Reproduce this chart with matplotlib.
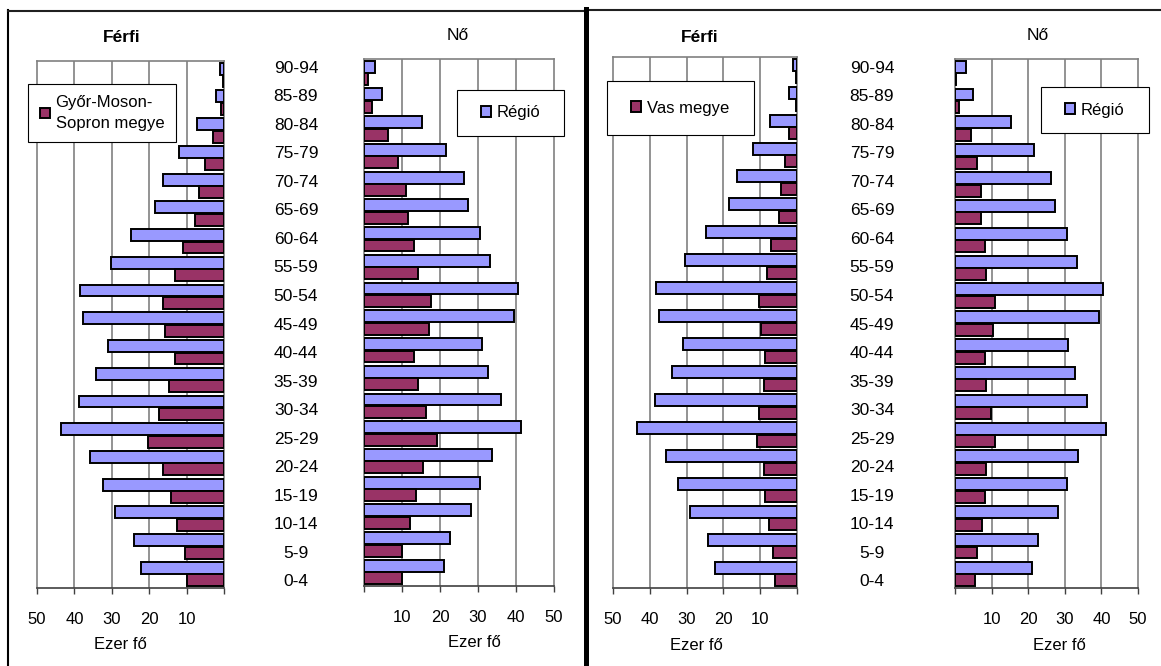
import matplotlib
matplotlib.use('Agg')
import matplotlib.pyplot as plt
import numpy as np
from matplotlib.lines import Line2D
from matplotlib.patches import Rectangle

plt.rcParams['font.family'] = ['Liberation Sans', 'DejaVu Sans']

# age groups, youngest first
ages = ['0-4', '5-9', '10-14', '15-19', '20-24', '25-29', '30-34', '35-39',
        '40-44', '45-49', '50-54', '55-59', '60-64', '65-69', '70-74',
        '75-79', '80-84', '85-89', '90-94']

# thousand persons
region_male = [22.2, 24.1, 29.2, 32.4, 35.7, 43.6, 38.7, 34.1, 31.1, 37.6,
               38.4, 30.3, 24.8, 18.4, 16.2, 12.0, 7.3, 2.1, 1.0]
region_female = [21.1, 22.7, 28.1, 30.5, 33.7, 41.2, 36.1, 32.7, 31.0, 39.4,
                 40.5, 33.2, 30.5, 27.4, 26.3, 21.7, 15.2, 4.8, 3.0]
gyor_male = [9.9, 10.4, 12.7, 14.3, 16.4, 20.2, 17.4, 14.7, 13.1, 15.9,
             16.3, 13.1, 11.0, 7.8, 6.7, 5.1, 2.9, 0.9, 0.4]
gyor_female = [10.1, 10.1, 12.2, 13.8, 15.4, 19.1, 16.4, 14.3, 13.2, 17.0,
               17.5, 14.3, 13.2, 11.7, 11.1, 9.0, 6.4, 2.1, 1.1]
vas_male = [5.9, 6.4, 7.5, 8.6, 9.1, 10.8, 10.2, 9.1, 8.6, 9.7,
            10.2, 8.1, 7.0, 4.8, 4.3, 3.2, 2.1, 0.4, 0.4]
vas_female = [5.4, 5.9, 7.5, 8.1, 8.6, 10.8, 9.7, 8.6, 8.1, 10.3,
              10.8, 8.6, 8.1, 7.0, 7.0, 5.9, 4.3, 1.0, 0.3]

BLUE = '#9999FF'
PURPLE = '#993366'
GRID = '#808080'

W, H = 1161, 666
fig = plt.figure(figsize=(W / 100, H / 100), dpi=100)


def box(x0, y0, x1, y1):
    # pixel box (top-left origin) -> figure fraction rect
    return [x0 / W, 1 - y1 / H, (x1 - x0) / W, (y1 - y0) / H]


def style_axis(ax, male):
    ax.set_ylim(-0.5, len(ages) - 0.5)
    if male:
        ax.set_xlim(50, 0)
        ax.set_xticks([50, 40, 30, 20, 10, 0])
        ax.set_xticklabels(['50', '40', '30', '20', '10', ''])
    else:
        ax.set_xlim(0, 50)
        ax.set_xticks([0, 10, 20, 30, 40, 50])
        ax.set_xticklabels(['', '10', '20', '30', '40', '50'])
    for x in [10, 20, 30, 40]:
        ax.axvline(x, color=GRID, lw=1.2, zorder=0)
    for s in ['top', 'left', 'right']:
        ax.spines[s].set_color(GRID)
        ax.spines[s].set_linewidth(1.2)
    ax.spines['bottom'].set_color('#404040')
    ax.spines['bottom'].set_linewidth(1.2)
    ax.tick_params(axis='x', direction='out', length=4, width=1,
                   color='#404040', labelsize=12, pad=13)
    ax.set_yticks([])
    ax.set_xlabel('Ezer fő', fontsize=12)


def panel(ax_m, ax_f, county_m, county_f, county_name):
    y = np.arange(len(ages))
    h = 0.43
    for ax, reg, cnt in [(ax_m, region_male, county_m), (ax_f, region_female, county_f)]:
        br = ax.barh(y + 0.225, reg, height=h, color=BLUE, edgecolor='black',
                     linewidth=1.4, label='Régió', zorder=3)
        bc = ax.barh(y - 0.225, cnt, height=h, color=PURPLE, edgecolor='black',
                     linewidth=1.4, label=county_name, zorder=3)
    style_axis(ax_m, True)
    style_axis(ax_f, False)
    return bc, br


def age_labels(cx):
    # the age column sits in its own strip, spaced a bit wider than the bars
    ax = fig.add_axes(box(cx - 30, 54, cx + 30, 596))
    ax.set_ylim(-0.5, len(ages) - 0.5)
    ax.set_xlim(0, 1)
    ax.axis('off')
    for i, a in enumerate(ages):
        ax.text(0.5, i, a, fontsize=12.5, ha='center', va='center')


ax1m = fig.add_axes(box(37, 61, 224, 588))
ax1f = fig.add_axes(box(364, 59, 554, 586))
ax2m = fig.add_axes(box(613, 57, 797, 588))
ax2f = fig.add_axes(box(955, 59, 1138, 588))

g_c, g_r = panel(ax1m, ax1f, gyor_male, gyor_female, 'Győr-Moson-\nSopron megye')
v_c, v_r = panel(ax2m, ax2f, vas_male, vas_female, 'Vas megye')
age_labels(296)
age_labels(872)

for ax, cx in [(ax1m, 0.445), (ax1f, 0.58), (ax2m, 0.455), (ax2f, 0.57)]:
    ax.xaxis.set_label_coords(cx, -0.108)
    ax.xaxis.label.set_va('center')

fig.text(122 / W, 1 - 37 / H, 'Férfi', fontsize=12.5, fontweight='bold', ha='center', va='center')
fig.text(458 / W, 1 - 36 / H, 'Nő', fontsize=12.5, ha='center', va='center')
fig.text(700 / W, 1 - 38 / H, 'Férfi', fontsize=12.5, fontweight='bold', ha='center', va='center')
fig.text(1038 / W, 1 - 35 / H, 'Nő', fontsize=12.5, ha='center', va='center')


def leg(handle, label, x0, y0, x1, y1):
    fig.add_artist(Rectangle((x0 / W, 1 - y1 / H), (x1 - x0) / W, (y1 - y0) / H,
                             transform=fig.transFigure, facecolor='white',
                             edgecolor='black', lw=0.8, zorder=4))
    lg = fig.legend(handles=[handle], labels=[label], loc='center',
                    bbox_to_anchor=((x0 + x1) / 2 / W, 1 - (y0 + y1) / 2 / H),
                    bbox_transform=fig.transFigure, frameon=False, fontsize=12,
                    handlelength=0.6, handleheight=0.6, handletextpad=0.35)
    lg.set_zorder(5)
    for t in lg.get_texts():
        t.set_linespacing(1.55)
    return lg


leg(g_c, 'Győr-Moson-\nSopron megye', 28, 84, 176, 142)
leg(g_r, 'Régió', 457, 90, 564, 136)
leg(v_c, 'Vas megye', 607, 81, 754, 135)
leg(v_r, 'Régió', 1041, 87, 1149, 133)

# outer frames of the two pasted charts
fig.add_artist(Line2D([8 / W, 8 / W], [0, 1 - 10 / H], color='black', lw=1.5,
                      transform=fig.transFigure))
fig.add_artist(Line2D([8 / W, 585 / W], [1 - 10.5 / H, 1 - 10.5 / H], color='#202020', lw=1.5,
                      transform=fig.transFigure))
fig.add_artist(Line2D([585 / W, 1], [1 - 9.5 / H, 1 - 9.5 / H], color='#202020', lw=1.5,
                      transform=fig.transFigure))
fig.add_artist(Line2D([585.5 / W, 585.5 / W], [0, 1 - 9 / H], color='black', lw=3.6,
                      transform=fig.transFigure))

fig.savefig('out.png', dpi=100)
